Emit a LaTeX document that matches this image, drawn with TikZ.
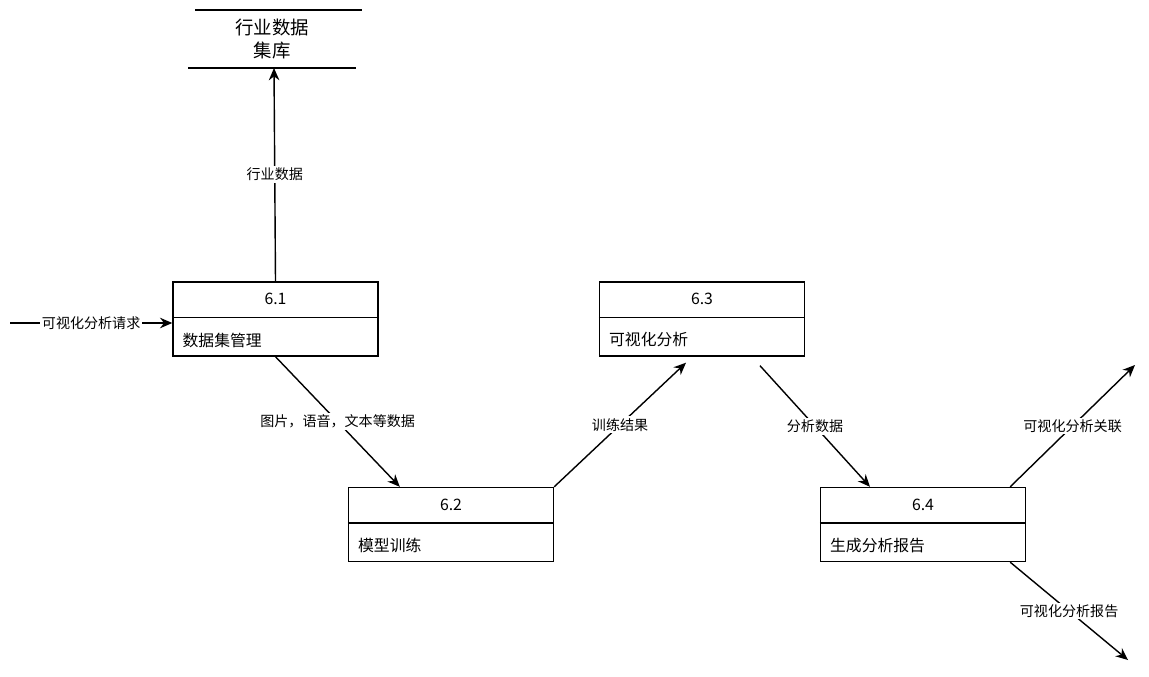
\documentclass[tikz,border=0pt]{standalone}
\usepackage{fontspec}
\setmainfont{Noto Sans CJK SC}
\usetikzlibrary{arrows.meta,positioning}
\tikzset{
  proc/.style={draw, line width=0.8pt, minimum width=205*0.02cm, minimum height=74*0.02cm, inner sep=0pt},
  flow/.style={-{Stealth[length=7pt,width=6pt]}, line width=0.8pt},
  lbl/.style={fill=white, font=\fontsize{8}{9}\selectfont, inner sep=1pt},
  txt/.style={font=\fontsize{9}{10}\selectfont, inner sep=0pt}
}
\begin{document}
\begin{tikzpicture}[x=0.02cm,y=-0.02cm]
        \useasboundingbox (0,0) rectangle (1149,676);

        % data store
        \draw[line width=1.3pt] (195,10) -- (362,10);
        \draw[line width=1.3pt] (188,68) -- (356,68);
        \node[font=\fontsize{10.5}{13}\selectfont, align=center] (store) at (272,39) {行业数据\\集库};
        \coordinate (storeb) at (274,68);

        % processes
        \node[proc] (p61) at (275.5,319) {};
        \node[proc] (p62) at (451,524.5) {};
        \node[proc] (p63) at (702,319) {};
        \node[proc] (p64) at (923,524.5) {};
        \foreach \p/\n/\t in {p61/6.1/数据集管理, p62/6.2/模型训练, p63/6.3/可视化分析, p64/6.4/生成分析报告} {
          \draw[line width=0.8pt] ([yshift=-36*0.02cm]\p.north west) -- ([yshift=-36*0.02cm]\p.north east);
          \node[txt] at ([yshift=-18*0.02cm]\p.north) {\n};
          \node[txt, anchor=west] at ([xshift=10*0.02cm, yshift=-21*0.02cm]\p.west) {\t};
        }

        % free ends
        \coordinate (in) at (10,323);
        \coordinate (out1) at (1135,365);
        \coordinate (out2) at (1128,660);

        % flows
        \draw[flow] (p61.north) -- node[lbl] {行业数据} (storeb);
        \draw[flow] (in) -- node[lbl] {可视化分析请求} (p61.west |- in);
        \draw[flow] (p61.south) -- node[lbl] {图片，语音，文本等数据} ([xshift=52*0.02cm]p62.north west);
        \draw[flow] (p62.north east) -- node[lbl] {训练结果} ([xshift=-16*0.02cm, yshift=-6*0.02cm]p63.south);
        \draw[flow] ([xshift=58*0.02cm, yshift=-9*0.02cm]p63.south) -- node[lbl] {分析数据} ([xshift=-53*0.02cm]p64.north);
        \draw[flow] ([xshift=-16*0.02cm]p64.north east) -- node[lbl] {可视化分析关联} (out1);
        \draw[flow] ([xshift=-16*0.02cm]p64.south east) -- node[lbl] {可视化分析报告} (out2);
\end{tikzpicture}
\end{document}
